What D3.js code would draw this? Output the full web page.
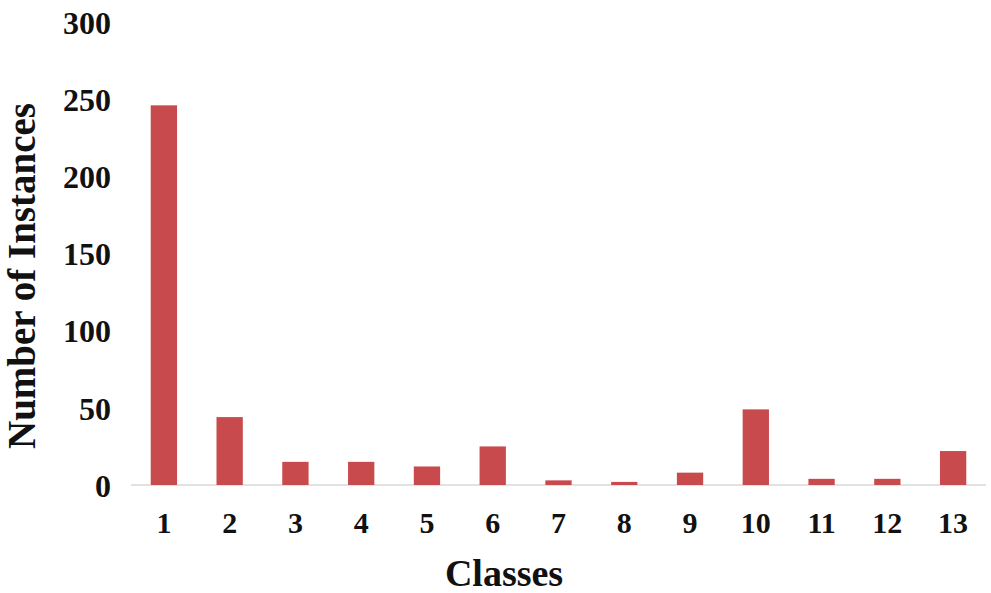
<!DOCTYPE html>
<html>
<head>
<meta charset="utf-8">
<script src="https://cdn.jsdelivr.net/npm/d3@7"></script>
<style>
  html, body { margin: 0; padding: 0; background: #ffffff; }
  svg { display: block; }
  text { font-family: "Liberation Serif", "Times New Roman", serif; font-weight: bold; fill: #111; }
</style>
</head>
<body>
<svg id="chart" width="991" height="593"></svg>
<script>
const categories = ["1","2","3","4","5","6","7","8","9","10","11","12","13"];
const values = [246, 44, 15, 15, 12, 25, 3, 2, 8, 49, 4, 4, 22];
const yTicks = [0, 50, 100, 150, 200, 250, 300];
const xTitle = "Classes";
const yTitle = "Number of Instances";

const svg = d3.select("#chart");

const x = d3.scaleBand()
  .domain(categories)
  .range([131, 986])
  .paddingInner(0.6)
  .paddingOuter(0.3);

const y = d3.scaleLinear()
  .domain([0, 300])
  .range([485, 22]);

// baseline
svg.append("line")
  .attr("x1", 131).attr("x2", 986)
  .attr("y1", y(0)).attr("y2", y(0))
  .attr("stroke", "#d9d9d9").attr("stroke-width", 1.5);

// bars
svg.append("g").selectAll("rect")
  .data(values)
  .join("rect")
  .attr("x", (d, i) => x(categories[i]))
  .attr("y", d => y(d))
  .attr("width", x.bandwidth())
  .attr("height", d => y(0) - y(d))
  .attr("fill", "#C94A4C");

// y axis (labels only)
const yAxis = d3.axisLeft(y).tickValues(yTicks).tickSize(0).tickPadding(0);
const gy = svg.append("g").attr("transform", "translate(111,0)").call(yAxis);
gy.select(".domain").remove();
gy.selectAll("text")
  .attr("font-size", 32)
  .attr("font-family", "Liberation Serif, Times New Roman, serif")
  .attr("font-weight", "bold")
  .attr("fill", "#111")
  .attr("dy", "0.35em");

// x axis (labels only)
const xAxis = d3.axisBottom(x).tickSize(0).tickPadding(0);
const gx = svg.append("g").attr("transform", "translate(0,509)").call(xAxis);
gx.select(".domain").remove();
gx.selectAll("text")
  .attr("font-size", 30)
  .attr("font-family", "Liberation Serif, Times New Roman, serif")
  .attr("font-weight", "bold")
  .attr("fill", "#111")
  .attr("dy", "0.8em");

// titles
svg.append("text")
  .attr("x", 504).attr("y", 586)
  .attr("text-anchor", "middle")
  .attr("font-size", 38)
  .text(xTitle);

svg.append("text")
  .attr("transform", "translate(35,276) rotate(-90)")
  .attr("text-anchor", "middle")
  .attr("font-size", 39)
  .text(yTitle);
</script>
</body>
</html>
